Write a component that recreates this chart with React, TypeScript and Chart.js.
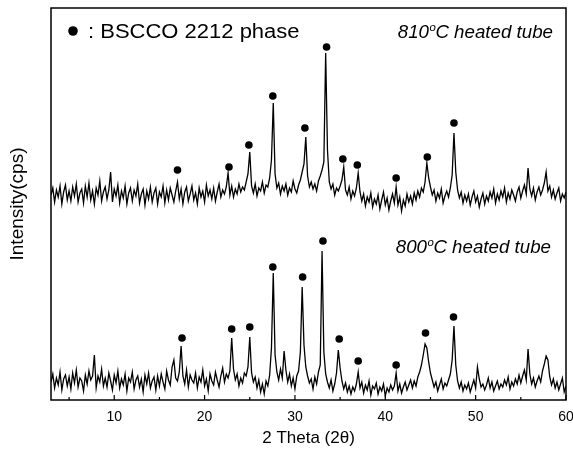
import React, { useEffect, useRef } from "react";
import { Chart, registerables } from "chart.js";

Chart.register(...registerables);

// ---- data (2θ sampling grid: 3.0 .. 60.0, step 0.2) ----
const THETA_START = 3;
const THETA_STEP = 0.2;
const X_MIN = 3;
const X_MAX = 60;
const Y_MIN = 0;
const Y_MAX = 392;

const xMajorTicks = [10, 20, 30, 40, 50, 60];
const xMinorTicks = [5, 15, 25, 35, 45, 55];
const xTickLabels = ["10", "20", "30", "40", "50", "60"];

// 810°C heated tube (upper pattern)
const counts810 = [
  205, 212, 198, 210, 203, 214, 196, 208, 215, 200,
  209, 199, 213, 204, 216, 198, 207, 211, 197, 214,
  203, 217, 200, 209, 196, 212, 205, 219, 199, 208,
  213, 201, 210, 228, 198, 211, 204, 215, 197, 209,
  202, 214, 196, 207, 212, 199, 210, 204, 216, 197,
  206, 211, 195, 209, 201, 213, 198, 207, 212, 196,
  208, 203, 214, 197, 210, 200, 212, 205, 198, 209,
  218, 201, 211, 196, 208, 213, 199, 206, 214, 200,
  207, 196, 212, 203, 209, 198, 215, 204, 210, 201,
  212, 199, 208, 216, 203, 210, 206, 213, 227, 205,
  214, 203, 211, 206, 216, 208, 213, 210, 218, 226,
  248, 214, 207, 216, 204, 212, 209, 218, 207, 215,
  213, 222, 240, 297, 226, 212, 217, 206, 214, 209,
  216, 205, 212, 208, 219, 211, 207, 215, 220, 228,
  236, 263, 224, 213, 218, 211, 216, 209, 219, 224,
  230, 238, 347, 250, 218, 211, 216, 205, 212, 209,
  214, 220, 233, 210, 205, 213, 201, 209, 204, 212,
  227, 208, 199, 206, 194, 203, 198, 207, 193, 201,
  196, 205, 191, 200, 208, 195, 202, 190, 199, 206,
  197, 213, 195, 203, 189, 200, 194, 206, 198, 204,
  196, 207, 200, 209, 203, 212, 208, 218, 237, 222,
  213, 205, 210, 199, 207, 202, 211, 197, 204, 209,
  203, 212, 225, 267, 228, 210, 202, 208, 197, 205,
  199, 206, 195, 203, 209, 198, 204, 193, 201, 207,
  196, 204, 199, 208, 202, 211, 197, 206, 200, 209,
  203, 212, 198, 207, 201, 210, 205, 199, 208, 213,
  202, 209, 215, 206, 232, 211, 204, 212, 200, 208,
  213, 205, 210, 217, 228, 209, 214, 203, 210, 201,
  207, 212, 199, 206, 202, 208,
];

// 800°C heated tube (lower pattern)
const counts800 = [
  18, 26, 12, 22, 15, 28, 10, 21, 25, 14,
  23, 11, 27, 17, 30, 13, 22, 19, 9, 25,
  16, 29, 20, 24, 45, 12, 24, 18, 31, 14,
  22, 13, 27, 19, 10, 25, 17, 29, 12, 21,
  15, 26, 9, 22, 18, 28, 11, 20, 24, 13,
  21, 8, 25, 16, 27, 12, 19, 23, 10, 24,
  14, 26, 18, 11, 29, 20, 15, 33, 40, 22,
  19, 28, 54, 24, 16, 30, 13, 25, 20, 17,
  27, 12, 23, 18, 30, 14, 21, 9, 26, 19,
  15, 28, 20, 13, 24, 32, 18, 26, 22, 29,
  62, 31, 20, 26, 14, 22, 17, 27, 24, 33,
  63, 27, 18, 23, 12, 20, 8, 16, 6, 19,
  14, 25, 52, 127, 45, 28, 20, 31, 22, 49,
  30, 18, 26, 14, 22, 11, 24, 29, 48, 113,
  55, 33, 24, 17, 21, 11, 23, 16, 28, 35,
  149, 48, 26, 18, 12, 20, 9, 16, 27, 50,
  32, 19, 11, 17, 8, 14, 6, 13, 9, 16,
  28, 12, 18, 7, 15, 10, 19, 5, 14, 11,
  17, 6, 13, 9, 16, 4, 12, 8, 15, 10,
  14, 27, 9, 16, 7, 13, 18, 10, 15, 20,
  12, 19, 14, 23, 28, 35, 45, 56, 52, 38,
  27, 20, 13, 18, 9, 15, 21, 11, 17, 14,
  20, 26, 40, 74, 35, 19, 12, 18, 9, 15,
  11, 17, 8, 14, 20, 12, 33, 21, 13, 16,
  10, 15, 22, 12, 18, 9, 14, 19, 11, 16,
  13, 20, 15, 23, 11, 18, 14, 21, 16, 25,
  17, 24, 30, 20, 51, 26, 16, 22, 13, 19,
  24, 18, 29, 36, 44, 40, 23, 15, 21, 12,
  18, 10, 16, 22, 8, 14,
];

// BSCCO 2212 phase markers
const mark810Theta = [17.0, 22.7, 24.9, 27.55, 31.1, 33.5, 35.3, 36.9, 41.2, 44.65, 47.6];
const mark810Value = [230, 233, 255, 304, 272, 353, 241, 235, 222, 243, 277];
const mark800Theta = [17.5, 23.0, 25.0, 27.55, 30.85, 33.1, 34.9, 37.0, 41.2, 44.45, 47.55];
const mark800Value = [62, 71, 73, 133, 123, 159, 61, 39, 35, 67, 83];

const legendText = ": BSCCO 2212 phase";
const label810 = ["810", "o", "C heated tube"];
const label800 = ["800", "o", "C heated tube"];
const xTitle = "2 Theta (2\u03b8)";
const yTitle = "Intensity(cps)";

const FONT = "'Liberation Sans', Arial, Helvetica, sans-serif";

function toPoints(values: number[]) {
  return values.map((v, i) => ({ x: THETA_START + i * THETA_STEP, y: v }));
}

function drawScaled(ctx: CanvasRenderingContext2D, text: string, x: number, y: number, font: string, sx: number) {
  ctx.save();
  ctx.font = font;
  ctx.textBaseline = "alphabetic";
  ctx.textAlign = "left";
  ctx.translate(x, y);
  ctx.scale(sx, 1);
  ctx.fillText(text, 0, 0);
  ctx.restore();
}

function measure(ctx: CanvasRenderingContext2D, text: string, font: string) {
  ctx.save();
  ctx.font = font;
  const w = ctx.measureText(text).width;
  ctx.restore();
  return w;
}

function drawTempLabel(ctx: CanvasRenderingContext2D, parts: string[], right: number, baseline: number) {
  const big = `italic 18px ${FONT}`;
  const small = `italic 11px ${FONT}`;
  const sx = 1.04;
  const w0 = measure(ctx, parts[0], big) * sx;
  const w1 = measure(ctx, parts[1], small) * sx;
  const w2 = measure(ctx, parts[2], big) * sx;
  let x = right - (w0 + w1 + w2);
  drawScaled(ctx, parts[0], x, baseline, big, sx);
  x += w0;
  drawScaled(ctx, parts[1], x + 0.5, baseline - 7, small, sx);
  x += w1;
  drawScaled(ctx, parts[2], x, baseline, big, sx);
}

const overlayPlugin = {
  id: "xrdOverlay",
  afterDraw(chart: any) {
    const { ctx, chartArea: a, scales } = chart;
    const xs = scales.x;
    ctx.save();
    ctx.fillStyle = "#000";
    ctx.strokeStyle = "#000";
    // frame
    ctx.lineWidth = 1.5;
    ctx.strokeRect(a.left, a.top, a.right - a.left, a.bottom - a.top);
    // inward ticks on the bottom axis
    ctx.lineWidth = 1.2;
    ctx.beginPath();
    for (const v of xMajorTicks) {
      const px = xs.getPixelForValue(v);
      ctx.moveTo(px, a.bottom);
      ctx.lineTo(px, a.bottom - 5);
    }
    for (const v of xMinorTicks) {
      const px = xs.getPixelForValue(v);
      ctx.moveTo(px, a.bottom);
      ctx.lineTo(px, a.bottom - 3);
    }
    ctx.stroke();
    // legend
    ctx.beginPath();
    ctx.arc(a.left + 22, a.top + 23, 4.8, 0, Math.PI * 2);
    ctx.fill();
    drawScaled(ctx, legendText, a.left + 37, a.top + 30, `20px ${FONT}`, 1.1);
    // sample labels
    drawTempLabel(ctx, label810, a.right - 13, a.top + 30);
    drawTempLabel(ctx, label800, a.right - 15, a.top + 245);
    ctx.restore();
  },
};

export default function App() {
  const ref = useRef<HTMLCanvasElement | null>(null);

  useEffect(() => {
    if (!ref.current) return;
    const chart = new Chart(ref.current, {
      type: "line",
      data: {
        datasets: [
          {
            label: "810°C heated tube",
            data: toPoints(counts810),
            borderColor: "#000",
            borderWidth: 1.3,
            pointRadius: 0,
            tension: 0,
            fill: false,
          },
          {
            label: "800°C heated tube",
            data: toPoints(counts800),
            borderColor: "#000",
            borderWidth: 1.3,
            pointRadius: 0,
            tension: 0,
            fill: false,
          },
          {
            type: "scatter",
            label: "BSCCO 2212 (810)",
            data: mark810Theta.map((t, i) => ({ x: t, y: mark810Value[i] })),
            showLine: false,
            pointRadius: 3.8,
            pointBackgroundColor: "#000",
            pointBorderWidth: 0,
            borderColor: "#000",
          },
          {
            type: "scatter",
            label: "BSCCO 2212 (800)",
            data: mark800Theta.map((t, i) => ({ x: t, y: mark800Value[i] })),
            showLine: false,
            pointRadius: 3.8,
            pointBackgroundColor: "#000",
            pointBorderWidth: 0,
            borderColor: "#000",
          },
        ] as any,
      },
      options: {
        responsive: false,
        animation: false,
        devicePixelRatio: 1,
        layout: { padding: { top: 8, right: 7, left: 0, bottom: 0 } },
        plugins: {
          legend: { display: false },
          tooltip: { enabled: false },
        },
        scales: {
          x: {
            type: "linear",
            min: X_MIN,
            max: X_MAX,
            afterBuildTicks: (scale: any) => {
              scale.ticks = xMajorTicks.map((v) => ({ value: v }));
            },
            afterFit: (scale: any) => {
              scale.height = 56;
              scale.paddingRight = 0;
              scale.paddingLeft = 0;
            },
            grid: { display: false, drawTicks: false },
            border: { display: false },
            ticks: {
              padding: 9,
              color: "#000",
              font: { family: FONT, size: 14 },
              maxRotation: 0,
              autoSkip: false,
              callback: (v: any) => {
                const i = xMajorTicks.indexOf(Number(v));
                return i >= 0 ? xTickLabels[i] : "";
              },
            },
            title: {
              display: true,
              text: xTitle,
              color: "#000",
              font: { family: FONT, size: 17 },
              padding: { top: 0, bottom: 7 },
            },
          },
          y: {
            type: "linear",
            min: Y_MIN,
            max: Y_MAX,
            afterFit: (scale: any) => {
              scale.width = 51;
            },
            grid: { display: false, drawTicks: false },
            border: { display: false },
            ticks: { display: false },
            title: {
              display: true,
              text: yTitle,
              color: "#000",
              font: { family: FONT, size: 19 },
              padding: { top: 6, bottom: 0 },
            },
          },
        },
      } as any,
      plugins: [overlayPlugin],
    });
    return () => chart.destroy();
  }, []);

  return (
    <div style={{ position: "fixed", left: 0, top: 0, width: 573, height: 456, background: "#fff" }}>
      <canvas ref={ref} width={573} height={456} style={{ display: "block" }} />
    </div>
  );
}
